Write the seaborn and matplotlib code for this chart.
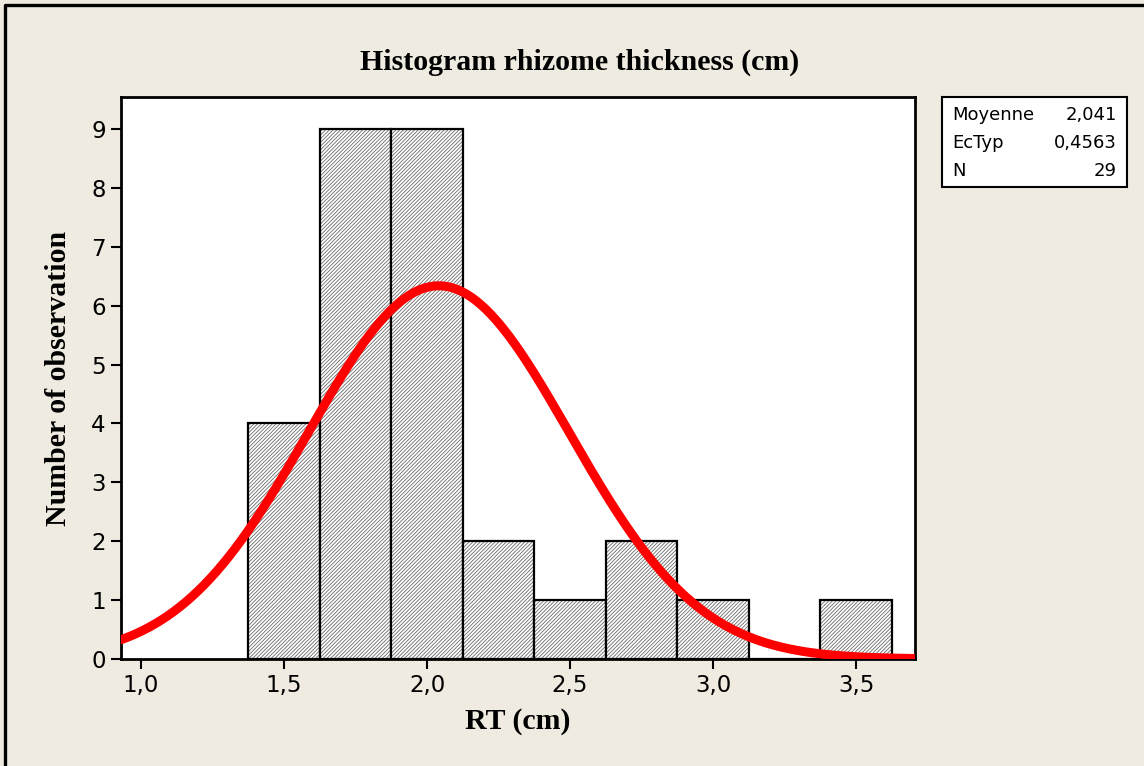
import numpy as np
import pandas as pd
import seaborn as sns
import matplotlib
matplotlib.use("Agg")
import matplotlib.pyplot as plt
from matplotlib.colors import to_rgba
from matplotlib.lines import Line2D
from matplotlib.patches import Rectangle

# ---- data ----
bin_centers = [1.50, 1.75, 2.00, 2.25, 2.50, 2.75, 3.00, 3.25, 3.50]
counts = [4, 9, 9, 2, 1, 2, 1, 0, 1]
bin_width = 0.25
mean_rt = 2.041
sd_rt = 0.4563
n_obs = 29

xtick_values = [1.0, 1.5, 2.0, 2.5, 3.0, 3.5]
xtick_labels = ["1,0", "1,5", "2,0", "2,5", "3,0", "3,5"]
ytick_values = list(range(0, 10))

stats_names = ["Moyenne", "EcTyp", "N"]
stats_values = ["2,041", "0,4563", "29"]

title = "Histogram rhizome thickness (cm)"
xlabel = "RT (cm)"
ylabel = "Number of observation"

# ---- style ----
sns.set_theme(style="white")
plt.rcParams["font.family"] = ["DejaVu Sans"]
plt.rcParams["text.color"] = "black"
plt.rcParams["axes.labelcolor"] = "black"
plt.rcParams["hatch.linewidth"] = 0.6

bg = "#EFEBE1"
fig = plt.figure(figsize=(11.44, 7.66), dpi=100, facecolor=bg)
ax = fig.add_axes([121 / 1144, 1 - 659 / 766, (915 - 121) / 1144, (659 - 97) / 766])
ax.set_facecolor("white")

df = pd.DataFrame({"x": bin_centers, "w": counts})
lo = bin_centers[0] - bin_width / 2
hi = bin_centers[-1] + bin_width / 2
sns.histplot(data=df, x="x", weights="w", binwidth=bin_width, binrange=(lo, hi),
             ax=ax, color="white", edgecolor="black", linewidth=1.6, alpha=1.0,
             zorder=2)
for p in ax.patches:
    p.set_hatch("/" * 9)
    p.set_edgecolor("black")
    p._hatch_color = to_rgba("#6a6a6a")

# fitted normal curve from the displayed statistics
xs = np.linspace(0.9, 3.75, 400)
ys = n_obs * bin_width * np.exp(-0.5 * ((xs - mean_rt) / sd_rt) ** 2) / (sd_rt * np.sqrt(2 * np.pi))
sns.lineplot(x=xs, y=ys, ax=ax, color="#FF0000", linewidth=6.5, zorder=5,
             solid_capstyle="butt")

ax.set_xlim(0.930, 3.706)
ax.set_ylim(0, 9.545)
ax.set_xticks(xtick_values)
ax.set_xticklabels(xtick_labels)
ax.set_yticks(ytick_values)
ax.tick_params(axis="both", which="major", direction="out", length=7, width=1.5,
               labelsize=16.5, color="black", labelcolor="black", pad=4,
               bottom=True, left=True)
for s in ax.spines.values():
    s.set_visible(True)
    s.set_color("black")
    s.set_linewidth(2)

serif = ["Liberation Serif", "DejaVu Serif"]
ax.set_xlabel(xlabel, fontsize=21.5, fontweight="bold", family=serif, labelpad=8)
ax.set_ylabel(ylabel, fontsize=21.5, fontweight="bold", family=serif, labelpad=14)
fig.text(580 / 1144, 1 - 62 / 766, title, fontsize=21.5, fontweight="bold",
         family=serif, ha="center", va="center")

# stats box
fig.patches.append(Rectangle((942 / 1144, 1 - 187 / 766), (1127 - 942) / 1144, 90 / 766,
                             transform=fig.transFigure, facecolor="white",
                             edgecolor="black", linewidth=1.5))
for i, (nm, val) in enumerate(zip(stats_names, stats_values)):
    yy = 1 - (115 + i * 28) / 766
    fig.text(952 / 1144, yy, nm, fontsize=13, ha="left", va="center")
    fig.text(1117 / 1144, yy, val, fontsize=13, ha="right", va="center")

# outer frame (top and left edges only, as in the reference)
fig.add_artist(Line2D([5 / 1144, 5 / 1144, 1], [0, 1 - 5 / 766, 1 - 5 / 766],
                      transform=fig.transFigure, color="black", linewidth=2.4))

fig.savefig("out.png", dpi=100, facecolor=bg)
